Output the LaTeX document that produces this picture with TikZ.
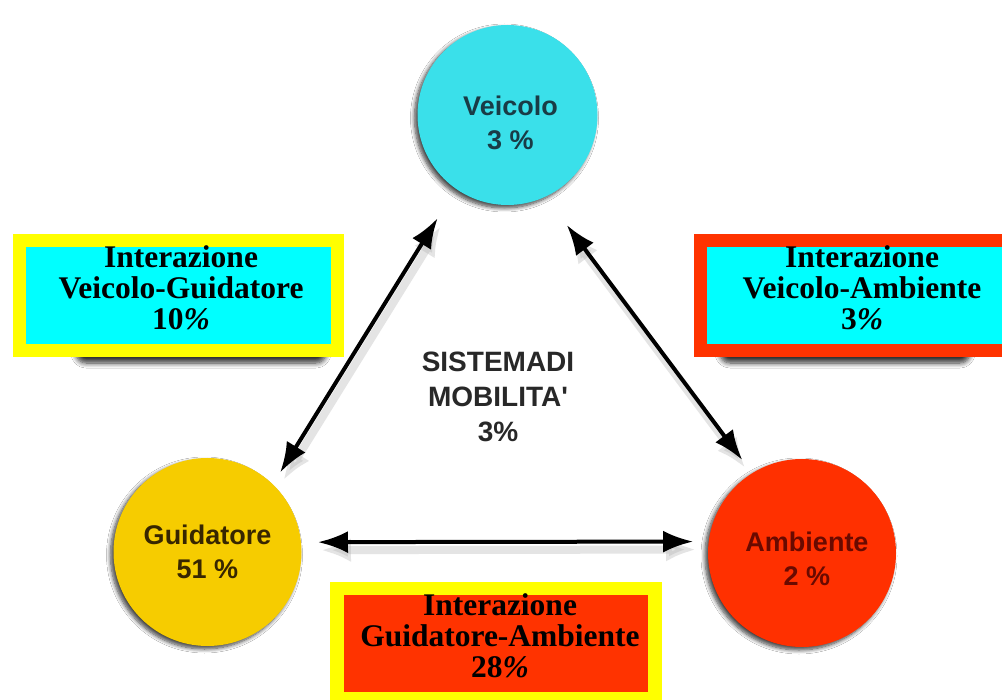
\documentclass[tikz,border=0pt]{standalone}
\usepackage{fontspec}
\setmainfont{Liberation Serif}
\setsansfont{Liberation Sans}
\usetikzlibrary{arrows.meta,shadows.blur}
\definecolor{vcyan}{RGB}{58,224,234}
\definecolor{gyellow}{RGB}{246,204,0}
\definecolor{ared}{RGB}{255,48,0}
\definecolor{bcyan}{RGB}{0,255,255}
\definecolor{byellow}{RGB}{255,255,0}
\definecolor{bred}{RGB}{255,51,0}
\definecolor{vtext}{RGB}{25,60,70}
\definecolor{gtext}{RGB}{55,38,0}
\definecolor{atext}{RGB}{105,10,0}
\definecolor{ctext}{RGB}{40,40,40}
\begin{document}
\begin{tikzpicture}[x=1pt,y=-1pt,
  ball/.style={circle, inner sep=0pt, outer sep=0pt,
    blur shadow={shadow xshift=-3pt, shadow yshift=-3pt, shadow opacity=75, shadow blur steps=8, shadow blur radius=4pt}},
  balltext/.style={font=\sffamily\bfseries\fontsize{27}{34}\selectfont, align=center, inner sep=0pt},
  frame/.style={rectangle, inner sep=0pt, outer sep=0pt, line width=13.5pt},
  boxtext/.style={font=\bfseries\fontsize{31.5}{31}\selectfont, align=center, inner sep=0pt, anchor=north, text=black},
  dbl/.style={{Latex[length=30pt,width=22pt]}-{Latex[length=30pt,width=22pt]}, line width=4pt, draw=black},
  dblshadow/.style={{Latex[length=30pt,width=24pt]}-{Latex[length=30pt,width=24pt]}, line width=8pt, draw=gray!60, opacity=0.35, transform canvas={xshift=3pt,yshift=-8pt}},
  boxshadow/.style={blur shadow={shadow xshift=0pt, shadow yshift=0pt, shadow blur radius=5pt, shadow opacity=80, shadow blur steps=8}, rounded corners=10pt}
]
\useasboundingbox (0,0) rectangle (1002,700);
\clip (0,0) rectangle (1002,700);
\fill[white] (0,0) rectangle (1002,700);

% circles
\node[ball, fill=vcyan, minimum size=180pt] (V) at (507.5,115) {};
\node[ball, fill=gyellow, minimum size=188pt] (G) at (207.5,552) {};
\node[ball, fill=ared, minimum size=188pt] (A) at (802,553) {};

\node[balltext, text=vtext, xshift=3pt, yshift=-8pt] (Vt) at (V) {Veicolo\\3 \%};
\node[balltext, text=gtext] (Gt) at (G) {Guidatore\\51 \%};
\node[balltext, text=atext, xshift=5pt, yshift=-6pt] (At) at (A) {Ambiente\\2 \%};

% centre text
\node[font=\sffamily\bfseries\fontsize{28}{35}\selectfont, align=center, inner sep=0pt, text=ctext] (S) at (498,397) {SISTEMADI\\MOBILITA\textquotesingle\\3\%};

% arrow shadows
\draw[dblshadow, shorten <=34.8pt, shorten >=14.2pt] (V.235) -- (G.46);
\draw[dblshadow, shorten <=35.6pt, shorten >=16.7pt] (V.295) -- (A.122);
\draw[dblshadow, shorten <=17pt, shorten >=15.6pt] (G.6.1) -- (A.173.3);

% arrows
\draw[dbl, shorten <=34.8pt, shorten >=14.2pt] (V.235) -- (G.46);
\draw[dbl, shorten <=35.6pt, shorten >=16.7pt] (V.295) -- (A.122);
\draw[dbl, shorten <=17pt, shorten >=15.6pt] (G.6.1) -- (A.173.3);

% box shadows
\path[boxshadow] (76,336) rectangle (326,363);
\path[boxshadow] (720,336) rectangle (970,363);

% boxes
\node[frame, draw=byellow, fill=bcyan, minimum width=318pt, minimum height=110pt] (B1) at (178.5,295.5) {};
\node[frame, draw=bred, fill=bcyan, minimum width=318pt, minimum height=110pt] (B2) at (859.5,295.5) {};
\node[frame, draw=byellow, fill=bred, minimum width=318pt, minimum height=110pt] (B3) at (496,643.5) {};

\node[boxtext] (T1) at (181,245) {Interazione\\Veicolo-Guidatore\\10{\itshape\%}};
\node[boxtext] (T2) at (862,245) {Interazione\\Veicolo-Ambiente\\3{\itshape\%}};
\node[boxtext] (T3) at (500,593) {Interazione\\Guidatore-Ambiente\\28{\itshape\%}};
\end{tikzpicture}
\end{document}
